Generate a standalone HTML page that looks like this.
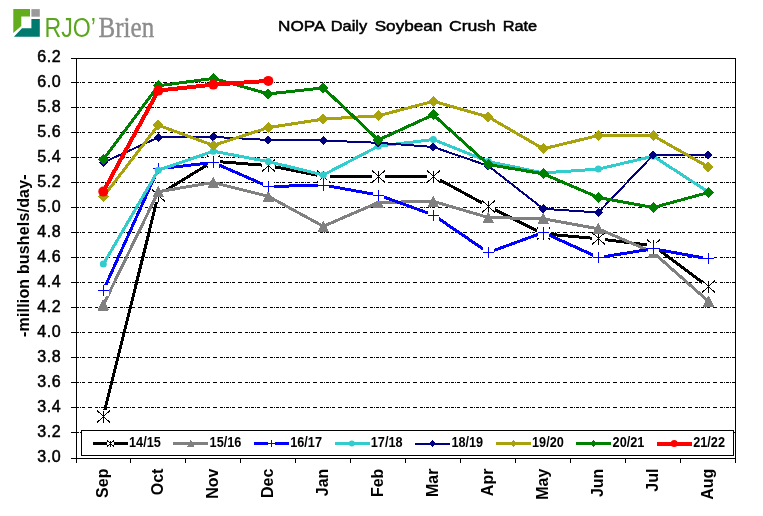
<!DOCTYPE html>
<html><head><meta charset="utf-8"><title>NOPA Daily Soybean Crush Rate</title>
<style>
html,body{margin:0;padding:0;background:#fff;}
body{width:763px;height:516px;overflow:hidden;}
svg{display:block;}
text{font-family:"Liberation Sans",Arial,sans-serif;fill:#000;}
.b{font-weight:bold;}
.r{stroke:#000;stroke-width:0.5px;}
</style></head><body>
<svg width="763" height="516" viewBox="0 0 763 516">
<rect x="0" y="0" width="763" height="516" fill="#fff"/>
<g id="logo">
<polygon points="13.3,9 30,9 30,16.5 21.3,16.5 21.3,26 13.3,33.1" fill="#63ac1e"/>
<rect x="31.4" y="9.1" width="8.4" height="7.6" fill="#9a9b9a"/>
<polygon points="31.4,19.1 39.8,19.1 39.8,36.8 13.9,36.8 22,28.3 31.4,28.3" fill="#007a6e"/>
<text y="36.8" style="font-family:'Liberation Sans',sans-serif;font-size:28.4px;fill:#5aa61e"><tspan x="44.6" textLength="51.4" lengthAdjust="spacingAndGlyphs">RJO&#8217;</tspan><tspan x="98.6" textLength="55.6" lengthAdjust="spacingAndGlyphs" style="font-family:'Liberation Serif',serif;font-size:29.5px;fill:#8b8c8b;stroke:#8b8c8b;stroke-width:0.4px">Brien</tspan></text>
</g>
<text y="31.4" class="r" style="font-size:15.3px"><tspan x="278.1" textLength="46.3" lengthAdjust="spacingAndGlyphs">NOPA</tspan> <tspan x="330.8" textLength="36.4" lengthAdjust="spacingAndGlyphs">Daily</tspan> <tspan x="374.7" textLength="67.7" lengthAdjust="spacingAndGlyphs">Soybean</tspan> <tspan x="449" textLength="46.9" lengthAdjust="spacingAndGlyphs">Crush</tspan> <tspan x="502.7" textLength="34.5" lengthAdjust="spacingAndGlyphs">Rate</tspan></text>
<g shape-rendering="crispEdges" stroke="#000" stroke-width="1" fill="none">
<line x1="76" y1="82.5" x2="735" y2="82.5" stroke-dasharray="4 3 3 1 1 1 3 1 1 1 3 3" stroke-dashoffset="13"/>
<line x1="76" y1="107.5" x2="735" y2="107.5" stroke-dasharray="4 3 3 1 1 1 3 1 1 1 3 3" stroke-dashoffset="13"/>
<line x1="76" y1="132.5" x2="735" y2="132.5" stroke-dasharray="4 3 3 1 1 1 3 1 1 1 3 3" stroke-dashoffset="13"/>
<line x1="76" y1="157.5" x2="735" y2="157.5" stroke-dasharray="4 3 3 1 1 1 3 1 1 1 3 3" stroke-dashoffset="13"/>
<line x1="76" y1="182.5" x2="735" y2="182.5" stroke-dasharray="4 3 3 1 1 1 3 1 1 1 3 3" stroke-dashoffset="13"/>
<line x1="76" y1="207.5" x2="735" y2="207.5" stroke-dasharray="4 3 3 1 1 1 3 1 1 1 3 3" stroke-dashoffset="13"/>
<line x1="76" y1="232.5" x2="735" y2="232.5" stroke-dasharray="4 3 3 1 1 1 3 1 1 1 3 3" stroke-dashoffset="13"/>
<line x1="76" y1="257.5" x2="735" y2="257.5" stroke-dasharray="4 3 3 1 1 1 3 1 1 1 3 3" stroke-dashoffset="13"/>
<line x1="76" y1="282.5" x2="735" y2="282.5" stroke-dasharray="4 3 3 1 1 1 3 1 1 1 3 3" stroke-dashoffset="13"/>
<line x1="76" y1="307.5" x2="735" y2="307.5" stroke-dasharray="4 3 3 1 1 1 3 1 1 1 3 3" stroke-dashoffset="13"/>
<line x1="76" y1="332.5" x2="735" y2="332.5" stroke-dasharray="4 3 3 1 1 1 3 1 1 1 3 3" stroke-dashoffset="13"/>
<line x1="76" y1="357.5" x2="735" y2="357.5" stroke-dasharray="4 3 3 1 1 1 3 1 1 1 3 3" stroke-dashoffset="13"/>
<line x1="76" y1="382.5" x2="735" y2="382.5" stroke-dasharray="4 3 3 1 1 1 3 1 1 1 3 3" stroke-dashoffset="13"/>
<line x1="76" y1="407.5" x2="735" y2="407.5" stroke-dasharray="4 3 3 1 1 1 3 1 1 1 3 3" stroke-dashoffset="13"/>
<line x1="76" y1="432.5" x2="735" y2="432.5" stroke-dasharray="4 3 3 1 1 1 3 1 1 1 3 3" stroke-dashoffset="13"/>
</g>
<g id="series" fill="none" stroke-linejoin="round" stroke-linecap="butt" shape-rendering="crispEdges">
<polyline points="103.3,416.2 158.3,195.0 213.3,161.2 268.3,165.6 323.3,176.3 378.3,176.3 433.3,176.3 488.3,206.3 543.3,233.8 598.3,238.8 653.3,245.6 708.3,286.9" stroke="#000000" stroke-width="3"/>
<rect x="97.0" y="410.0" width="13.0" height="13.0" fill="#fff"/><path d="M97.0 410.5L110.0 422.5M97.0 422.5L110.0 410.5M103.5 410.5L103.5 422.5" stroke="#000" stroke-width="1" fill="none"/>
<rect x="152.0" y="189.0" width="13.0" height="13.0" fill="#fff"/><path d="M152.0 189.5L165.0 201.5M152.0 201.5L165.0 189.5M158.5 189.5L158.5 201.5" stroke="#000" stroke-width="1" fill="none"/>
<rect x="207.0" y="155.0" width="13.0" height="13.0" fill="#fff"/><path d="M207.0 155.5L220.0 167.5M207.0 167.5L220.0 155.5M213.5 155.5L213.5 167.5" stroke="#000" stroke-width="1" fill="none"/>
<rect x="262.0" y="159.0" width="13.0" height="13.0" fill="#fff"/><path d="M262.0 159.5L275.0 171.5M262.0 171.5L275.0 159.5M268.5 159.5L268.5 171.5" stroke="#000" stroke-width="1" fill="none"/>
<rect x="317.0" y="170.0" width="13.0" height="13.0" fill="#fff"/><path d="M317.0 170.5L330.0 182.5M317.0 182.5L330.0 170.5M323.5 170.5L323.5 182.5" stroke="#000" stroke-width="1" fill="none"/>
<rect x="372.0" y="170.0" width="13.0" height="13.0" fill="#fff"/><path d="M372.0 170.5L385.0 182.5M372.0 182.5L385.0 170.5M378.5 170.5L378.5 182.5" stroke="#000" stroke-width="1" fill="none"/>
<rect x="427.0" y="170.0" width="13.0" height="13.0" fill="#fff"/><path d="M427.0 170.5L440.0 182.5M427.0 182.5L440.0 170.5M433.5 170.5L433.5 182.5" stroke="#000" stroke-width="1" fill="none"/>
<rect x="482.0" y="200.0" width="13.0" height="13.0" fill="#fff"/><path d="M482.0 200.5L495.0 212.5M482.0 212.5L495.0 200.5M488.5 200.5L488.5 212.5" stroke="#000" stroke-width="1" fill="none"/>
<rect x="537.0" y="227.0" width="13.0" height="13.0" fill="#fff"/><path d="M537.0 227.5L550.0 239.5M537.0 239.5L550.0 227.5M543.5 227.5L543.5 239.5" stroke="#000" stroke-width="1" fill="none"/>
<rect x="592.0" y="232.0" width="13.0" height="13.0" fill="#fff"/><path d="M592.0 232.5L605.0 244.5M592.0 244.5L605.0 232.5M598.5 232.5L598.5 244.5" stroke="#000" stroke-width="1" fill="none"/>
<rect x="647.0" y="239.0" width="13.0" height="13.0" fill="#fff"/><path d="M647.0 239.5L660.0 251.5M647.0 251.5L660.0 239.5M653.5 239.5L653.5 251.5" stroke="#000" stroke-width="1" fill="none"/>
<rect x="702.0" y="280.0" width="13.0" height="13.0" fill="#fff"/><path d="M702.0 280.5L715.0 292.5M702.0 292.5L715.0 280.5M708.5 280.5L708.5 292.5" stroke="#000" stroke-width="1" fill="none"/>
<polyline points="103.3,305.0 158.3,191.7 213.3,182.5 268.3,196.3 323.3,226.3 378.3,202.5 433.3,201.3 488.3,217.5 543.3,218.8 598.3,228.8 653.3,252.5 708.3,301.2" stroke="#808080" stroke-width="3"/>
<path d="M103.3 300.0L108.3 310.0L98.3 310.0Z" fill="#808080" stroke="#808080" stroke-width="1"/>
<path d="M158.3 186.7L163.3 196.7L153.3 196.7Z" fill="#808080" stroke="#808080" stroke-width="1"/>
<path d="M213.3 177.5L218.3 187.5L208.3 187.5Z" fill="#808080" stroke="#808080" stroke-width="1"/>
<path d="M268.3 191.3L273.3 201.3L263.3 201.3Z" fill="#808080" stroke="#808080" stroke-width="1"/>
<path d="M323.3 221.3L328.3 231.3L318.3 231.3Z" fill="#808080" stroke="#808080" stroke-width="1"/>
<path d="M378.3 197.5L383.3 207.5L373.3 207.5Z" fill="#808080" stroke="#808080" stroke-width="1"/>
<path d="M433.3 196.3L438.3 206.3L428.3 206.3Z" fill="#808080" stroke="#808080" stroke-width="1"/>
<path d="M488.3 212.5L493.3 222.5L483.3 222.5Z" fill="#808080" stroke="#808080" stroke-width="1"/>
<path d="M543.3 213.8L548.3 223.8L538.3 223.8Z" fill="#808080" stroke="#808080" stroke-width="1"/>
<path d="M598.3 223.8L603.3 233.8L593.3 233.8Z" fill="#808080" stroke="#808080" stroke-width="1"/>
<path d="M653.3 247.5L658.3 257.5L648.3 257.5Z" fill="#808080" stroke="#808080" stroke-width="1"/>
<path d="M708.3 296.2L713.3 306.2L703.3 306.2Z" fill="#808080" stroke="#808080" stroke-width="1"/>
<polyline points="103.3,290.6 158.3,168.8 213.3,162.5 268.3,186.6 323.3,185.0 378.3,195.0 433.3,215.0 488.3,252.5 543.3,232.5 598.3,257.5 653.3,248.8 708.3,258.8" stroke="#0000ff" stroke-width="3"/>
<rect x="98.0" y="285.0" width="11.0" height="11.0" fill="#fff"/><path d="M98.0 290.5L109.0 290.5M103.5 285.0L103.5 296.0" stroke="#0000ff" stroke-width="1" fill="none"/>
<rect x="153.0" y="163.0" width="11.0" height="11.0" fill="#fff"/><path d="M153.0 168.5L164.0 168.5M158.5 163.0L158.5 174.0" stroke="#0000ff" stroke-width="1" fill="none"/>
<rect x="208.0" y="157.0" width="11.0" height="11.0" fill="#fff"/><path d="M208.0 162.5L219.0 162.5M213.5 157.0L213.5 168.0" stroke="#0000ff" stroke-width="1" fill="none"/>
<rect x="263.0" y="181.0" width="11.0" height="11.0" fill="#fff"/><path d="M263.0 186.5L274.0 186.5M268.5 181.0L268.5 192.0" stroke="#0000ff" stroke-width="1" fill="none"/>
<rect x="318.0" y="180.0" width="11.0" height="11.0" fill="#fff"/><path d="M318.0 185.5L329.0 185.5M323.5 180.0L323.5 191.0" stroke="#0000ff" stroke-width="1" fill="none"/>
<rect x="373.0" y="190.0" width="11.0" height="11.0" fill="#fff"/><path d="M373.0 195.5L384.0 195.5M378.5 190.0L378.5 201.0" stroke="#0000ff" stroke-width="1" fill="none"/>
<rect x="428.0" y="210.0" width="11.0" height="11.0" fill="#fff"/><path d="M428.0 215.5L439.0 215.5M433.5 210.0L433.5 221.0" stroke="#0000ff" stroke-width="1" fill="none"/>
<rect x="483.0" y="247.0" width="11.0" height="11.0" fill="#fff"/><path d="M483.0 252.5L494.0 252.5M488.5 247.0L488.5 258.0" stroke="#0000ff" stroke-width="1" fill="none"/>
<rect x="538.0" y="227.0" width="11.0" height="11.0" fill="#fff"/><path d="M538.0 232.5L549.0 232.5M543.5 227.0L543.5 238.0" stroke="#0000ff" stroke-width="1" fill="none"/>
<rect x="593.0" y="252.0" width="11.0" height="11.0" fill="#fff"/><path d="M593.0 257.5L604.0 257.5M598.5 252.0L598.5 263.0" stroke="#0000ff" stroke-width="1" fill="none"/>
<rect x="648.0" y="243.0" width="11.0" height="11.0" fill="#fff"/><path d="M648.0 248.5L659.0 248.5M653.5 243.0L653.5 254.0" stroke="#0000ff" stroke-width="1" fill="none"/>
<rect x="703.0" y="253.0" width="11.0" height="11.0" fill="#fff"/><path d="M703.0 258.5L714.0 258.5M708.5 253.0L708.5 264.0" stroke="#0000ff" stroke-width="1" fill="none"/>
<polyline points="103.3,264.1 158.3,170.2 213.3,151.2 268.3,161.6 323.3,175.0 378.3,146.2 433.3,139.5 488.3,161.6 543.3,172.9 598.3,169.1 653.3,156.2 708.3,191.9" stroke="#33cccc" stroke-width="3"/>
<circle cx="103.3" cy="264.1" r="3.5" fill="#33cccc" shape-rendering="geometricPrecision"/>
<circle cx="158.3" cy="170.2" r="3.5" fill="#33cccc" shape-rendering="geometricPrecision"/>
<circle cx="213.3" cy="151.2" r="3.5" fill="#33cccc" shape-rendering="geometricPrecision"/>
<circle cx="268.3" cy="161.6" r="3.5" fill="#33cccc" shape-rendering="geometricPrecision"/>
<circle cx="323.3" cy="175.0" r="3.5" fill="#33cccc" shape-rendering="geometricPrecision"/>
<circle cx="378.3" cy="146.2" r="3.5" fill="#33cccc" shape-rendering="geometricPrecision"/>
<circle cx="433.3" cy="139.5" r="3.5" fill="#33cccc" shape-rendering="geometricPrecision"/>
<circle cx="488.3" cy="161.6" r="3.5" fill="#33cccc" shape-rendering="geometricPrecision"/>
<circle cx="543.3" cy="172.9" r="3.5" fill="#33cccc" shape-rendering="geometricPrecision"/>
<circle cx="598.3" cy="169.1" r="3.5" fill="#33cccc" shape-rendering="geometricPrecision"/>
<circle cx="653.3" cy="156.2" r="3.5" fill="#33cccc" shape-rendering="geometricPrecision"/>
<circle cx="708.3" cy="191.9" r="3.5" fill="#33cccc" shape-rendering="geometricPrecision"/>
<polyline points="103.3,162.5 158.3,137.5 213.3,136.9 268.3,140.0 323.3,140.5 378.3,142.8 433.3,147.0 488.3,165.9 543.3,208.8 598.3,212.5 653.3,155.0 708.3,155.0" stroke="#000080" stroke-width="2"/>
<path d="M103.3 157.9L107.89999999999999 162.5L103.3 167.1L98.7 162.5Z" fill="#000080"/>
<path d="M158.3 132.9L162.9 137.5L158.3 142.1L153.70000000000002 137.5Z" fill="#000080"/>
<path d="M213.3 132.3L217.9 136.9L213.3 141.5L208.70000000000002 136.9Z" fill="#000080"/>
<path d="M268.3 135.4L272.90000000000003 140.0L268.3 144.6L263.7 140.0Z" fill="#000080"/>
<path d="M323.3 135.9L327.90000000000003 140.5L323.3 145.1L318.7 140.5Z" fill="#000080"/>
<path d="M378.3 138.20000000000002L382.90000000000003 142.8L378.3 147.4L373.7 142.8Z" fill="#000080"/>
<path d="M433.3 142.4L437.90000000000003 147.0L433.3 151.6L428.7 147.0Z" fill="#000080"/>
<path d="M488.3 161.3L492.90000000000003 165.9L488.3 170.5L483.7 165.9Z" fill="#000080"/>
<path d="M543.3 204.20000000000002L547.9 208.8L543.3 213.4L538.6999999999999 208.8Z" fill="#000080"/>
<path d="M598.3 207.9L602.9 212.5L598.3 217.1L593.6999999999999 212.5Z" fill="#000080"/>
<path d="M653.3 150.4L657.9 155.0L653.3 159.6L648.6999999999999 155.0Z" fill="#000080"/>
<path d="M708.3 150.4L712.9 155.0L708.3 159.6L703.6999999999999 155.0Z" fill="#000080"/>
<polyline points="103.3,196.7 158.3,125.2 213.3,145.4 268.3,127.6 323.3,119.1 378.3,115.8 433.3,101.3 488.3,116.9 543.3,148.8 598.3,135.5 653.3,135.8 708.3,166.9" stroke="#a8a30c" stroke-width="3"/>
<path d="M103.3 191.2L108.8 196.7L103.3 202.2L97.8 196.7Z" fill="#a8a30c"/>
<path d="M158.3 119.7L163.8 125.2L158.3 130.7L152.8 125.2Z" fill="#a8a30c"/>
<path d="M213.3 139.9L218.8 145.4L213.3 150.9L207.8 145.4Z" fill="#a8a30c"/>
<path d="M268.3 122.1L273.8 127.6L268.3 133.1L262.8 127.6Z" fill="#a8a30c"/>
<path d="M323.3 113.6L328.8 119.1L323.3 124.6L317.8 119.1Z" fill="#a8a30c"/>
<path d="M378.3 110.3L383.8 115.8L378.3 121.3L372.8 115.8Z" fill="#a8a30c"/>
<path d="M433.3 95.8L438.8 101.3L433.3 106.8L427.8 101.3Z" fill="#a8a30c"/>
<path d="M488.3 111.4L493.8 116.9L488.3 122.4L482.8 116.9Z" fill="#a8a30c"/>
<path d="M543.3 143.3L548.8 148.8L543.3 154.3L537.8 148.8Z" fill="#a8a30c"/>
<path d="M598.3 130.0L603.8 135.5L598.3 141.0L592.8 135.5Z" fill="#a8a30c"/>
<path d="M653.3 130.3L658.8 135.8L653.3 141.3L647.8 135.8Z" fill="#a8a30c"/>
<path d="M708.3 161.4L713.8 166.9L708.3 172.4L702.8 166.9Z" fill="#a8a30c"/>
<polyline points="103.3,159.6 158.3,85.8 213.3,78.4 268.3,93.9 323.3,87.9 378.3,140.0 433.3,114.8 488.3,164.6 543.3,173.8 598.3,197.5 653.3,207.5 708.3,192.5" stroke="#008000" stroke-width="3"/>
<path d="M103.3 154.1L108.8 159.6L103.3 165.1L97.8 159.6Z" fill="#008000"/>
<path d="M158.3 80.3L163.8 85.8L158.3 91.3L152.8 85.8Z" fill="#008000"/>
<path d="M213.3 72.9L218.8 78.4L213.3 83.9L207.8 78.4Z" fill="#008000"/>
<path d="M268.3 88.4L273.8 93.9L268.3 99.4L262.8 93.9Z" fill="#008000"/>
<path d="M323.3 82.4L328.8 87.9L323.3 93.4L317.8 87.9Z" fill="#008000"/>
<path d="M378.3 134.5L383.8 140.0L378.3 145.5L372.8 140.0Z" fill="#008000"/>
<path d="M433.3 109.3L438.8 114.8L433.3 120.3L427.8 114.8Z" fill="#008000"/>
<path d="M488.3 159.1L493.8 164.6L488.3 170.1L482.8 164.6Z" fill="#008000"/>
<path d="M543.3 168.3L548.8 173.8L543.3 179.3L537.8 173.8Z" fill="#008000"/>
<path d="M598.3 192.0L603.8 197.5L598.3 203.0L592.8 197.5Z" fill="#008000"/>
<path d="M653.3 202.0L658.8 207.5L653.3 213.0L647.8 207.5Z" fill="#008000"/>
<path d="M708.3 187.0L713.8 192.5L708.3 198.0L702.8 192.5Z" fill="#008000"/>
<polyline points="103.3,191.6 158.3,90.6 213.3,84.6 268.3,80.9" stroke="#ff0000" stroke-width="4"/>
<circle cx="103.3" cy="191.6" r="5" fill="#ff0000" shape-rendering="geometricPrecision"/>
<circle cx="158.3" cy="90.6" r="5" fill="#ff0000" shape-rendering="geometricPrecision"/>
<circle cx="213.3" cy="84.6" r="5" fill="#ff0000" shape-rendering="geometricPrecision"/>
<circle cx="268.3" cy="80.9" r="5" fill="#ff0000" shape-rendering="geometricPrecision"/>
</g>
<g shape-rendering="crispEdges" stroke="#000" stroke-width="1" fill="none">
<rect x="76.5" y="58.5" width="659" height="400"/>
<line x1="71" y1="58.5" x2="77" y2="58.5"/>
<line x1="71" y1="82.5" x2="77" y2="82.5"/>
<line x1="71" y1="107.5" x2="77" y2="107.5"/>
<line x1="71" y1="132.5" x2="77" y2="132.5"/>
<line x1="71" y1="157.5" x2="77" y2="157.5"/>
<line x1="71" y1="182.5" x2="77" y2="182.5"/>
<line x1="71" y1="207.5" x2="77" y2="207.5"/>
<line x1="71" y1="232.5" x2="77" y2="232.5"/>
<line x1="71" y1="257.5" x2="77" y2="257.5"/>
<line x1="71" y1="282.5" x2="77" y2="282.5"/>
<line x1="71" y1="307.5" x2="77" y2="307.5"/>
<line x1="71" y1="332.5" x2="77" y2="332.5"/>
<line x1="71" y1="357.5" x2="77" y2="357.5"/>
<line x1="71" y1="382.5" x2="77" y2="382.5"/>
<line x1="71" y1="407.5" x2="77" y2="407.5"/>
<line x1="71" y1="432.5" x2="77" y2="432.5"/>
<line x1="71" y1="458.5" x2="77" y2="458.5"/>
<line x1="76.5" y1="458" x2="76.5" y2="463"/>
<line x1="130.5" y1="458" x2="130.5" y2="463"/>
<line x1="185.5" y1="458" x2="185.5" y2="463"/>
<line x1="240.5" y1="458" x2="240.5" y2="463"/>
<line x1="295.5" y1="458" x2="295.5" y2="463"/>
<line x1="350.5" y1="458" x2="350.5" y2="463"/>
<line x1="405.5" y1="458" x2="405.5" y2="463"/>
<line x1="460.5" y1="458" x2="460.5" y2="463"/>
<line x1="515.5" y1="458" x2="515.5" y2="463"/>
<line x1="570.5" y1="458" x2="570.5" y2="463"/>
<line x1="625.5" y1="458" x2="625.5" y2="463"/>
<line x1="680.5" y1="458" x2="680.5" y2="463"/>
<line x1="735.5" y1="458" x2="735.5" y2="463"/>
</g>
<g class="r" style="font-size:16px" text-anchor="end">
<text x="60.6" y="62.1" textLength="23.3" lengthAdjust="spacing">6.2</text>
<text x="60.6" y="87.1" textLength="23.3" lengthAdjust="spacing">6.0</text>
<text x="60.6" y="112.1" textLength="23.3" lengthAdjust="spacing">5.8</text>
<text x="60.6" y="137.1" textLength="23.3" lengthAdjust="spacing">5.6</text>
<text x="60.6" y="162.1" textLength="23.3" lengthAdjust="spacing">5.4</text>
<text x="60.6" y="187.1" textLength="23.3" lengthAdjust="spacing">5.2</text>
<text x="60.6" y="212.1" textLength="23.3" lengthAdjust="spacing">5.0</text>
<text x="60.6" y="237.1" textLength="23.3" lengthAdjust="spacing">4.8</text>
<text x="60.6" y="262.1" textLength="23.3" lengthAdjust="spacing">4.6</text>
<text x="60.6" y="287.1" textLength="23.3" lengthAdjust="spacing">4.4</text>
<text x="60.6" y="312.1" textLength="23.3" lengthAdjust="spacing">4.2</text>
<text x="60.6" y="337.1" textLength="23.3" lengthAdjust="spacing">4.0</text>
<text x="60.6" y="362.1" textLength="23.3" lengthAdjust="spacing">3.8</text>
<text x="60.6" y="387.1" textLength="23.3" lengthAdjust="spacing">3.6</text>
<text x="60.6" y="412.1" textLength="23.3" lengthAdjust="spacing">3.4</text>
<text x="60.6" y="437.1" textLength="23.3" lengthAdjust="spacing">3.2</text>
<text x="60.6" y="462.1" textLength="23.3" lengthAdjust="spacing">3.0</text>
</g>
<text class="b" transform="translate(28.5,255.7) rotate(-90)" text-anchor="middle" style="font-size:16px" textLength="162.6" lengthAdjust="spacing">-million bushels/day-</text>
<g class="b" style="font-size:16px" text-anchor="end">
<text transform="translate(108.2,468.6) rotate(-90)">Sep</text>
<text transform="translate(163.2,468.6) rotate(-90)">Oct</text>
<text transform="translate(218.2,468.6) rotate(-90)">Nov</text>
<text transform="translate(273.2,468.6) rotate(-90)">Dec</text>
<text transform="translate(328.2,468.6) rotate(-90)">Jan</text>
<text transform="translate(383.2,468.6) rotate(-90)">Feb</text>
<text transform="translate(438.2,468.6) rotate(-90)">Mar</text>
<text transform="translate(493.2,468.6) rotate(-90)">Apr</text>
<text transform="translate(548.2,468.6) rotate(-90)">May</text>
<text transform="translate(603.2,468.6) rotate(-90)">Jun</text>
<text transform="translate(658.2,468.6) rotate(-90)">Jul</text>
<text transform="translate(713.2,468.6) rotate(-90)">Aug</text>
</g>
<rect x="81.5" y="430.5" width="652" height="25" fill="#fff" stroke="#000" stroke-width="1" shape-rendering="crispEdges"/>
<g id="legend" shape-rendering="crispEdges">
<line x1="92.8" y1="443.5" x2="127.8" y2="443.5" stroke="#000000" stroke-width="3"/>
<rect x="107.0" y="440.0" width="7.0" height="7.0" fill="#fff"/><path d="M107.0 440.5L114.0 446.5M107.0 446.5L114.0 440.5M110.5 440.5L110.5 446.5" stroke="#000" stroke-width="1" fill="none"/>
<text class="b" x="129.0" y="447.2" style="font-size:14px" textLength="31.8" lengthAdjust="spacingAndGlyphs">14/15</text>
<line x1="173.4" y1="443.5" x2="208.4" y2="443.5" stroke="#808080" stroke-width="3"/>
<path d="M190.6 440.5L193.6 446.5L187.6 446.5Z" fill="#808080" stroke="#808080" stroke-width="1"/>
<text class="b" x="209.6" y="447.2" style="font-size:14px" textLength="31.8" lengthAdjust="spacingAndGlyphs">15/16</text>
<line x1="254.0" y1="443.5" x2="289.0" y2="443.5" stroke="#0000ff" stroke-width="3"/>
<rect x="268.0" y="440.0" width="7.0" height="7.0" fill="#fff"/><path d="M268.0 443.5L275.0 443.5M271.5 440.0L271.5 447.0" stroke="#0000ff" stroke-width="1" fill="none"/>
<text class="b" x="290.2" y="447.2" style="font-size:14px" textLength="31.8" lengthAdjust="spacingAndGlyphs">16/17</text>
<line x1="334.6" y1="443.5" x2="369.6" y2="443.5" stroke="#33cccc" stroke-width="3"/>
<circle cx="351.8" cy="443.5" r="3" fill="#33cccc" shape-rendering="geometricPrecision"/>
<text class="b" x="370.8" y="447.2" style="font-size:14px" textLength="31.8" lengthAdjust="spacingAndGlyphs">17/18</text>
<line x1="415.2" y1="443.5" x2="450.2" y2="443.5" stroke="#000080" stroke-width="2"/>
<path d="M432.4 440.0L435.9 443.5L432.4 447.0L428.9 443.5Z" fill="#000080"/>
<text class="b" x="451.4" y="447.2" style="font-size:14px" textLength="31.8" lengthAdjust="spacingAndGlyphs">18/19</text>
<line x1="495.8" y1="443.5" x2="530.8" y2="443.5" stroke="#a8a30c" stroke-width="3"/>
<path d="M513.0 440.0L516.5 443.5L513.0 447.0L509.5 443.5Z" fill="#a8a30c"/>
<text class="b" x="532.0" y="447.2" style="font-size:14px" textLength="31.8" lengthAdjust="spacingAndGlyphs">19/20</text>
<line x1="576.4" y1="443.5" x2="611.4" y2="443.5" stroke="#008000" stroke-width="3"/>
<path d="M593.6 440.0L597.1 443.5L593.6 447.0L590.1 443.5Z" fill="#008000"/>
<text class="b" x="612.6" y="447.2" style="font-size:14px" textLength="31.8" lengthAdjust="spacingAndGlyphs">20/21</text>
<line x1="657.0" y1="443.5" x2="692.0" y2="443.5" stroke="#ff0000" stroke-width="4"/>
<circle cx="674.2" cy="443.5" r="3.5" fill="#ff0000" shape-rendering="geometricPrecision"/>
<text class="b" x="693.2" y="447.2" style="font-size:14px" textLength="31.8" lengthAdjust="spacingAndGlyphs">21/22</text>
</g>
</svg>
</body></html>
